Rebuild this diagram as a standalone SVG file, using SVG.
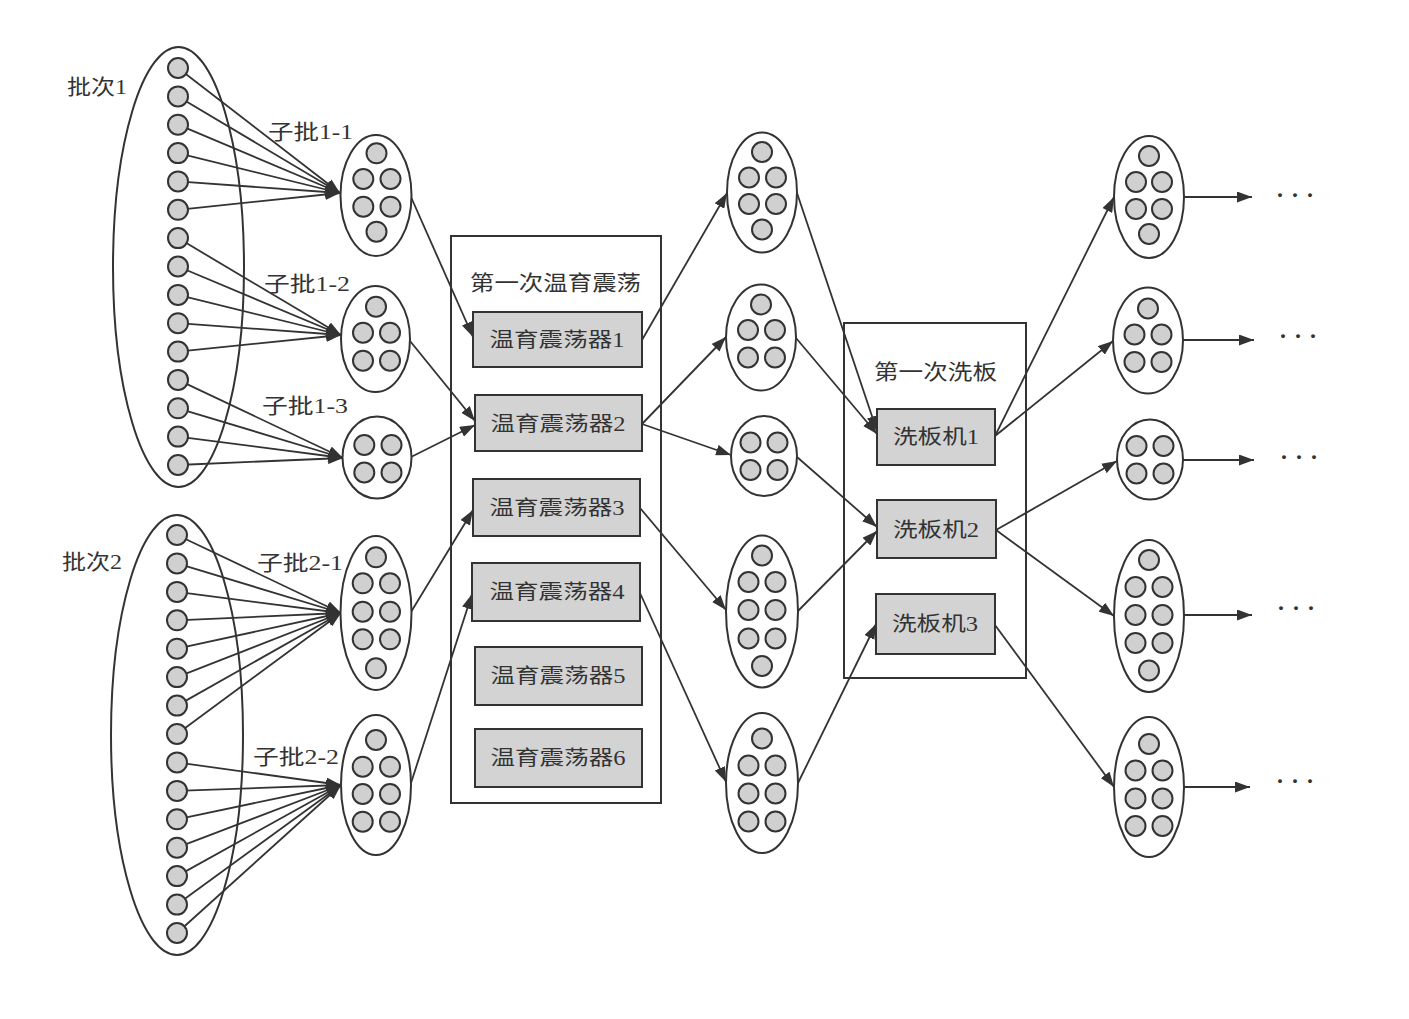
<svg xmlns="http://www.w3.org/2000/svg" width="1409" height="1019" viewBox="0 0 1409 1019">
<defs>
<marker id="ah" markerUnits="userSpaceOnUse" markerWidth="15" markerHeight="11" refX="15" refY="5.5" orient="auto">
<path d="M0,0 L15,5.5 L0,11 z" fill="#333"/>
</marker>
<style>
.big{fill:none;stroke:#333;stroke-width:2}
.grp{fill:#fff;stroke:#333;stroke-width:2}
.dot{fill:#d0d0d0;stroke:#333;stroke-width:2}
.frame{fill:none;stroke:#333;stroke-width:2}
.box{fill:#d3d3d3;stroke:#333;stroke-width:2}
.cn line{stroke:#333;stroke-width:1.8;marker-end:url(#ah)}
text{font-family:"Liberation Serif","Noto Sans CJK SC",serif;fill:#333}
.lb{font-size:21px}
.bt{font-size:20px;text-anchor:middle}
.dd{font-size:24px;font-weight:bold;text-anchor:middle}
</style>
</defs>
<rect width="1409" height="1019" fill="#fff"/>

<g id="connectors" class="cn">
<!-- batch1 -> sub 1-1 -->
<line x1="178" y1="68" x2="340" y2="193"/>
<line x1="178" y1="96.4" x2="340" y2="193"/>
<line x1="178" y1="124.7" x2="340" y2="193"/>
<line x1="178" y1="153.1" x2="340" y2="193"/>
<line x1="178" y1="181.4" x2="340" y2="193"/>
<line x1="178" y1="209.8" x2="340" y2="193"/>
<!-- batch1 -> sub 1-2 -->
<line x1="178" y1="238.1" x2="341" y2="335"/>
<line x1="178" y1="266.5" x2="341" y2="335"/>
<line x1="178" y1="294.9" x2="341" y2="335"/>
<line x1="178" y1="323.2" x2="341" y2="335"/>
<line x1="178" y1="351.6" x2="341" y2="335"/>
<!-- batch1 -> sub 1-3 -->
<line x1="178" y1="379.9" x2="343" y2="458"/>
<line x1="178" y1="408.3" x2="343" y2="458"/>
<line x1="178" y1="436.6" x2="343" y2="458"/>
<line x1="178" y1="465" x2="343" y2="458"/>
<!-- batch2 -> sub 2-1 -->
<line x1="177" y1="535" x2="341" y2="613"/>
<line x1="177" y1="563.4" x2="341" y2="613"/>
<line x1="177" y1="591.9" x2="341" y2="613"/>
<line x1="177" y1="620.3" x2="341" y2="613"/>
<line x1="177" y1="648.7" x2="341" y2="613"/>
<line x1="177" y1="677.1" x2="341" y2="613"/>
<line x1="177" y1="705.6" x2="341" y2="613"/>
<line x1="177" y1="734" x2="341" y2="613"/>
<!-- batch2 -> sub 2-2 -->
<line x1="177" y1="762.4" x2="341" y2="785"/>
<line x1="177" y1="790.9" x2="341" y2="785"/>
<line x1="177" y1="819.3" x2="341" y2="785"/>
<line x1="177" y1="847.7" x2="341" y2="785"/>
<line x1="177" y1="876.1" x2="341" y2="785"/>
<line x1="177" y1="904.6" x2="341" y2="785"/>
<line x1="177" y1="933" x2="341" y2="785"/>
<!-- sub batches -> shakers -->
<line x1="411" y1="197" x2="473" y2="337"/>
<line x1="410" y1="341" x2="475" y2="421"/>
<line x1="411" y1="457" x2="475" y2="425"/>
<line x1="411" y1="612" x2="473" y2="510"/>
<line x1="411" y1="783" x2="472" y2="594"/>
<!-- shakers -> middle groups -->
<line x1="642" y1="340" x2="727" y2="193"/>
<line x1="642" y1="424" x2="726" y2="337"/>
<line x1="642" y1="424" x2="731" y2="455"/>
<line x1="640" y1="508" x2="726" y2="610"/>
<line x1="640" y1="593" x2="726" y2="782"/>
<!-- middle groups -> washers -->
<line x1="797" y1="193" x2="877" y2="431"/>
<line x1="796" y1="338" x2="877" y2="434"/>
<line x1="797" y1="457" x2="877" y2="527"/>
<line x1="798" y1="611" x2="877" y2="531"/>
<line x1="798" y1="783" x2="876" y2="624"/>
<!-- washers -> right groups -->
<line x1="995" y1="436" x2="1114" y2="197"/>
<line x1="995" y1="436" x2="1113" y2="341"/>
<line x1="996" y1="530" x2="1117" y2="461"/>
<line x1="996" y1="530" x2="1114" y2="616"/>
<line x1="995" y1="625" x2="1114" y2="787"/>
<!-- right groups -> onward -->
<line x1="1185" y1="197" x2="1252" y2="197"/>
<line x1="1183" y1="340" x2="1254" y2="340"/>
<line x1="1183" y1="460" x2="1254" y2="460"/>
<line x1="1184" y1="615" x2="1252" y2="615"/>
<line x1="1184" y1="787" x2="1250" y2="787"/>
</g>

<g id="batch1">
<ellipse class="big" cx="178.5" cy="267" rx="65.5" ry="220"/>
<g class="dot">
<circle cx="178" cy="68" r="10"/><circle cx="178" cy="96.4" r="10"/><circle cx="178" cy="124.7" r="10"/>
<circle cx="178" cy="153.1" r="10"/><circle cx="178" cy="181.4" r="10"/><circle cx="178" cy="209.8" r="10"/>
<circle cx="178" cy="238.1" r="10"/><circle cx="178" cy="266.5" r="10"/><circle cx="178" cy="294.9" r="10"/>
<circle cx="178" cy="323.2" r="10"/><circle cx="178" cy="351.6" r="10"/><circle cx="178" cy="379.9" r="10"/>
<circle cx="178" cy="408.3" r="10"/><circle cx="178" cy="436.6" r="10"/><circle cx="178" cy="465" r="10"/>
</g>
<text class="lb" x="67" y="94" textLength="60" lengthAdjust="spacingAndGlyphs">批次1</text>
</g>

<g id="batch2">
<ellipse class="big" cx="177" cy="735" rx="66" ry="220"/>
<g class="dot">
<circle cx="177" cy="535" r="10"/><circle cx="177" cy="563.4" r="10"/><circle cx="177" cy="591.9" r="10"/>
<circle cx="177" cy="620.3" r="10"/><circle cx="177" cy="648.7" r="10"/><circle cx="177" cy="677.1" r="10"/>
<circle cx="177" cy="705.6" r="10"/><circle cx="177" cy="734" r="10"/><circle cx="177" cy="762.4" r="10"/>
<circle cx="177" cy="790.9" r="10"/><circle cx="177" cy="819.3" r="10"/><circle cx="177" cy="847.7" r="10"/>
<circle cx="177" cy="876.1" r="10"/><circle cx="177" cy="904.6" r="10"/><circle cx="177" cy="933" r="10"/>
</g>
<text class="lb" x="62" y="569" textLength="60" lengthAdjust="spacingAndGlyphs">批次2</text>
</g>

<g id="sub1-1">
<ellipse class="grp" cx="376" cy="195.5" rx="35.5" ry="60.5"/>
<g class="dot">
<circle cx="376.5" cy="153.3" r="10"/>
<circle cx="363.3" cy="179" r="10"/><circle cx="390.5" cy="179" r="10"/>
<circle cx="363.3" cy="206.7" r="10"/><circle cx="390.5" cy="206.7" r="10"/>
<circle cx="376.5" cy="231.7" r="10"/>
</g>
<text class="lb" x="268" y="139" textLength="85" lengthAdjust="spacingAndGlyphs">子批1-1</text>
</g>

<g id="sub1-2">
<ellipse class="grp" cx="375.5" cy="339" rx="34.5" ry="53"/>
<g class="dot">
<circle cx="376" cy="306.7" r="10"/>
<circle cx="363" cy="332.7" r="10"/><circle cx="390" cy="332.7" r="10"/>
<circle cx="363" cy="360.7" r="10"/><circle cx="390" cy="360.7" r="10"/>
</g>
<text class="lb" x="264" y="291" textLength="86" lengthAdjust="spacingAndGlyphs">子批1-2</text>
</g>

<g id="sub1-3">
<ellipse class="grp" cx="377" cy="457.5" rx="34.5" ry="41"/>
<g class="dot">
<circle cx="364.3" cy="445" r="10"/><circle cx="391.5" cy="445" r="10"/>
<circle cx="364.3" cy="472.5" r="10"/><circle cx="391.5" cy="472.5" r="10"/>
</g>
<text class="lb" x="262" y="413" textLength="86" lengthAdjust="spacingAndGlyphs">子批1-3</text>
</g>

<g id="sub2-1">
<ellipse class="grp" cx="376" cy="613" rx="35.5" ry="77"/>
<g class="dot">
<circle cx="376" cy="557.3" r="10"/>
<circle cx="362.7" cy="583.3" r="10"/><circle cx="390" cy="583.3" r="10"/>
<circle cx="362.7" cy="611.7" r="10"/><circle cx="390" cy="611.7" r="10"/>
<circle cx="362.7" cy="639.3" r="10"/><circle cx="390" cy="639.3" r="10"/>
<circle cx="376" cy="668.3" r="10"/>
</g>
<text class="lb" x="257" y="570" textLength="86" lengthAdjust="spacingAndGlyphs">子批2-1</text>
</g>

<g id="sub2-2">
<ellipse class="grp" cx="376" cy="785" rx="35" ry="70"/>
<g class="dot">
<circle cx="376" cy="740" r="10"/>
<circle cx="362.7" cy="766.7" r="10"/><circle cx="390" cy="766.7" r="10"/>
<circle cx="362.7" cy="794" r="10"/><circle cx="390" cy="794" r="10"/>
<circle cx="362.7" cy="821.7" r="10"/><circle cx="390" cy="821.7" r="10"/>
</g>
<text class="lb" x="253" y="764" textLength="86" lengthAdjust="spacingAndGlyphs">子批2-2</text>
</g>

<g id="incubation">
<rect class="frame" x="451" y="236" width="210" height="567"/>
<text class="lb" x="470" y="290" textLength="171" lengthAdjust="spacingAndGlyphs">第一次温育震荡</text>
</g>
<g id="shaker1"><rect class="box" x="473" y="312" width="169" height="55"/><text class="bt" x="557" y="347" textLength="135" lengthAdjust="spacingAndGlyphs">温育震荡器1</text></g>
<g id="shaker2"><rect class="box" x="475" y="395" width="167" height="56"/><text class="bt" x="558" y="431" textLength="135" lengthAdjust="spacingAndGlyphs">温育震荡器2</text></g>
<g id="shaker3"><rect class="box" x="473" y="479" width="167" height="57"/><text class="bt" x="557" y="515" textLength="135" lengthAdjust="spacingAndGlyphs">温育震荡器3</text></g>
<g id="shaker4"><rect class="box" x="472" y="563" width="168" height="58"/><text class="bt" x="557" y="599" textLength="135" lengthAdjust="spacingAndGlyphs">温育震荡器4</text></g>
<g id="shaker5"><rect class="box" x="475" y="647" width="167" height="58"/><text class="bt" x="558" y="683" textLength="135" lengthAdjust="spacingAndGlyphs">温育震荡器5</text></g>
<g id="shaker6"><rect class="box" x="475" y="729" width="167" height="58"/><text class="bt" x="558" y="765" textLength="135" lengthAdjust="spacingAndGlyphs">温育震荡器6</text></g>

<g id="mid1">
<ellipse class="grp" cx="762" cy="192.5" rx="35" ry="60"/>
<g class="dot">
<circle cx="762" cy="152" r="10"/>
<circle cx="749" cy="177.5" r="10"/><circle cx="776" cy="177.5" r="10"/>
<circle cx="749" cy="204" r="10"/><circle cx="776" cy="204" r="10"/>
<circle cx="762" cy="229.5" r="10"/>
</g>
</g>
<g id="mid2">
<ellipse class="grp" cx="761" cy="337.5" rx="35" ry="53"/>
<g class="dot">
<circle cx="761" cy="304.5" r="10"/>
<circle cx="748" cy="330" r="10"/><circle cx="775" cy="330" r="10"/>
<circle cx="748" cy="357.5" r="10"/><circle cx="775" cy="357.5" r="10"/>
</g>
</g>
<g id="mid3">
<ellipse class="grp" cx="764" cy="456" rx="33" ry="40"/>
<g class="dot">
<circle cx="750.5" cy="442.5" r="10"/><circle cx="777.5" cy="442.5" r="10"/>
<circle cx="750.5" cy="470" r="10"/><circle cx="777.5" cy="470" r="10"/>
</g>
</g>
<g id="mid4">
<ellipse class="grp" cx="762" cy="611.5" rx="36" ry="76"/>
<g class="dot">
<circle cx="762" cy="555.5" r="10"/>
<circle cx="748.5" cy="582" r="10"/><circle cx="775.5" cy="582" r="10"/>
<circle cx="748.5" cy="610" r="10"/><circle cx="775.5" cy="610" r="10"/>
<circle cx="748.5" cy="638.5" r="10"/><circle cx="775.5" cy="638.5" r="10"/>
<circle cx="762" cy="666" r="10"/>
</g>
</g>
<g id="mid5">
<ellipse class="grp" cx="762" cy="783" rx="36" ry="70"/>
<g class="dot">
<circle cx="762" cy="738.5" r="10"/>
<circle cx="748.5" cy="765.5" r="10"/><circle cx="775.5" cy="765.5" r="10"/>
<circle cx="748.5" cy="793.5" r="10"/><circle cx="775.5" cy="793.5" r="10"/>
<circle cx="748.5" cy="821.5" r="10"/><circle cx="775.5" cy="821.5" r="10"/>
</g>
</g>

<g id="washing">
<rect class="frame" x="844" y="323" width="182" height="355"/>
<text class="lb" x="874" y="379" textLength="123" lengthAdjust="spacingAndGlyphs">第一次洗板</text>
</g>
<g id="washer1"><rect class="box" x="877" y="409" width="118" height="56"/><text class="bt" x="936" y="444" textLength="86" lengthAdjust="spacingAndGlyphs">洗板机1</text></g>
<g id="washer2"><rect class="box" x="877" y="500" width="119" height="58"/><text class="bt" x="936" y="537" textLength="86" lengthAdjust="spacingAndGlyphs">洗板机2</text></g>
<g id="washer3"><rect class="box" x="876" y="594" width="119" height="60"/><text class="bt" x="935" y="631" textLength="86" lengthAdjust="spacingAndGlyphs">洗板机3</text></g>

<g id="right1">
<ellipse class="grp" cx="1149" cy="197" rx="35" ry="61"/>
<g class="dot">
<circle cx="1149" cy="156" r="10"/>
<circle cx="1136" cy="182" r="10"/><circle cx="1162" cy="182" r="10"/>
<circle cx="1136" cy="209" r="10"/><circle cx="1162" cy="209" r="10"/>
<circle cx="1149" cy="234" r="10"/>
</g>
<text class="dd" x="1280 1295 1310" y="203">···</text>
</g>
<g id="right2">
<ellipse class="grp" cx="1148" cy="340.5" rx="35" ry="53"/>
<g class="dot">
<circle cx="1148" cy="308.5" r="10"/>
<circle cx="1134.5" cy="334.5" r="10"/><circle cx="1161.5" cy="334.5" r="10"/>
<circle cx="1134.5" cy="362" r="10"/><circle cx="1161.5" cy="362" r="10"/>
</g>
<text class="dd" x="1283 1298 1313" y="344">···</text>
</g>
<g id="right3">
<ellipse class="grp" cx="1150" cy="459.5" rx="33" ry="40"/>
<g class="dot">
<circle cx="1136.5" cy="446" r="10"/><circle cx="1163.5" cy="446" r="10"/>
<circle cx="1136.5" cy="473.5" r="10"/><circle cx="1163.5" cy="473.5" r="10"/>
</g>
<text class="dd" x="1284 1299 1314" y="465">···</text>
</g>
<g id="right4">
<ellipse class="grp" cx="1149" cy="616" rx="35" ry="76"/>
<g class="dot">
<circle cx="1149" cy="560" r="10"/>
<circle cx="1135.5" cy="587" r="10"/><circle cx="1162.5" cy="587" r="10"/>
<circle cx="1135.5" cy="615" r="10"/><circle cx="1162.5" cy="615" r="10"/>
<circle cx="1135.5" cy="643" r="10"/><circle cx="1162.5" cy="643" r="10"/>
<circle cx="1149" cy="670.5" r="10"/>
</g>
<text class="dd" x="1281 1296 1311" y="616">···</text>
</g>
<g id="right5">
<ellipse class="grp" cx="1149" cy="787" rx="35" ry="70"/>
<g class="dot">
<circle cx="1149" cy="744" r="10"/>
<circle cx="1135.5" cy="770.5" r="10"/><circle cx="1162.5" cy="770.5" r="10"/>
<circle cx="1135.5" cy="798.5" r="10"/><circle cx="1162.5" cy="798.5" r="10"/>
<circle cx="1135.5" cy="826" r="10"/><circle cx="1162.5" cy="826" r="10"/>
</g>
<text class="dd" x="1280 1295 1310" y="789">···</text>
</g>
</svg>
